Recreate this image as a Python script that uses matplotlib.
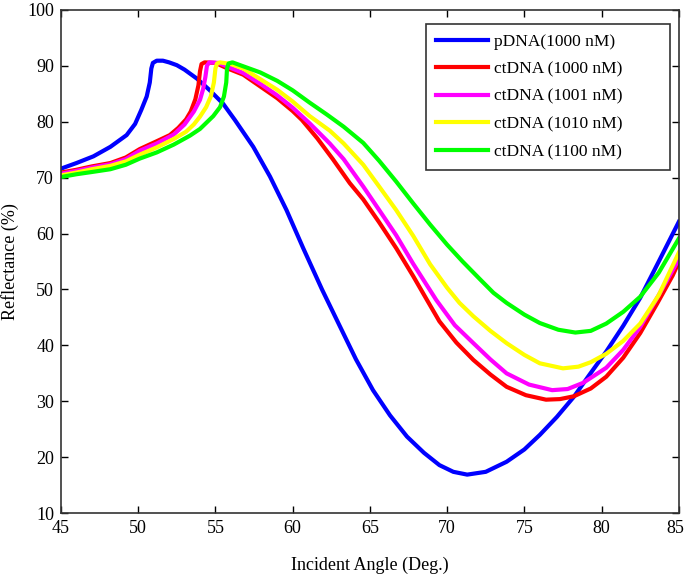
import numpy as np
import matplotlib.pyplot as plt
from matplotlib.transforms import ScaledTranslation

plt.rcParams['font.family'] = ['Liberation Serif', 'DejaVu Serif']

# incident angle (deg) / reflectance (%)
x_p = [45.0, 46.0, 47.1, 48.2, 49.25, 49.8, 50.2, 50.55, 50.75, 50.85, 50.95, 51.2, 51.6,
       52.0, 52.5, 53.0, 53.8, 54.6, 55.5, 56.26, 57.45, 58.53, 59.6, 60.68, 61.9, 63.06, 64.1,
       65.2, 66.3, 67.4, 68.5, 69.5, 70.4, 71.3, 72.5, 73.85, 75.0, 76.0, 77.1, 78.2, 79.2,
       80.3, 81.4, 82.5, 83.7, 85.0]
y_p = [71.6, 72.6, 73.8, 75.5, 77.6, 79.6, 82.1, 84.5, 87.0, 89.5, 90.5, 90.9, 90.9,
       90.6, 90.1, 89.3, 87.7, 85.7, 83.2, 80.3, 75.5, 70.2, 64.2, 57.4, 50.0, 43.4, 37.5,
       32.0, 27.5, 23.7, 20.8, 18.6, 17.4, 16.9, 17.4, 19.2, 21.4, 24.0, 27.2, 30.8, 34.7,
       38.9, 43.5, 48.5, 55.0, 62.1]

x_r = [45.0, 46.0, 47.0, 48.2, 49.2, 50.1, 51.2, 52.05, 52.6, 53.1, 53.4, 53.7, 53.9, 54.0,
       54.1, 54.3, 55.0, 55.8, 56.8, 59.0, 60.0, 60.6, 61.6, 62.6, 63.7, 64.57, 65.6, 66.7,
       67.8, 68.7, 69.5, 70.6, 71.7, 72.8, 73.85, 75.1, 76.4, 77.3, 78.2, 79.3, 80.3, 81.4,
       82.5, 83.6, 84.6, 85.0]
y_r = [70.9, 71.4, 72.0, 72.6, 73.6, 75.1, 76.5, 77.6, 78.9, 80.4, 81.8, 84.0, 86.5, 89.0,
       90.3, 90.6, 90.5, 89.5, 88.4, 84.2, 81.9, 80.3, 77.0, 73.3, 69.0, 66.1, 62.0, 57.4,
       52.4, 48.1, 44.3, 40.5, 37.4, 34.8, 32.6, 31.1, 30.3, 30.4, 30.9, 32.3, 34.4, 37.8,
       42.2, 47.5, 52.5, 54.9]

x_m = [45.0, 46.0, 47.0, 48.2, 49.2, 50.1, 51.2, 52.3, 53.0, 53.6, 54.0, 54.2, 54.35, 54.45,
       54.6, 55.2, 56.0, 56.8, 58.0, 59.0, 60.0, 61.1, 62.4, 63.3, 64.57, 65.6, 66.7, 67.8,
       69.3, 70.5, 71.7, 72.8, 73.85, 75.3, 76.8, 77.8, 78.8, 80.3, 81.4, 82.5, 83.7, 85.0]
y_m = [70.7, 71.2, 71.8, 72.4, 73.3, 74.8, 76.1, 77.7, 79.5, 81.8, 83.9, 85.8, 88.0, 90.0,
       90.6, 90.5, 89.6, 88.7, 86.6, 84.7, 82.5, 79.7, 76.1, 73.3, 68.4, 64.2, 59.7, 54.6,
       48.1, 43.6, 40.4, 37.5, 35.0, 33.0, 32.0, 32.2, 33.3, 36.0, 39.2, 43.3, 49.0, 55.4]

x_y = [45.0, 46.0, 47.0, 48.2, 49.2, 50.1, 51.2, 52.3, 53.1, 53.6, 54.0, 54.4, 54.7, 54.9,
       55.0, 55.1, 55.3, 56.0, 56.8, 59.0, 60.0, 61.1, 62.4, 63.3, 64.57, 65.6, 66.7, 67.8,
       68.9, 70.0, 70.8, 71.7, 72.8, 73.85, 75.0, 76.0, 77.5, 78.5, 79.3, 80.3, 81.4, 82.5,
       83.7, 85.0]
y_y = [70.4, 70.9, 71.5, 72.1, 72.9, 74.1, 75.4, 76.9, 78.2, 79.5, 80.9, 82.6, 84.5, 87.0,
       89.5, 90.4, 90.6, 90.3, 89.5, 85.7, 83.6, 81.0, 78.4, 76.1, 72.3, 68.4, 64.2, 59.6,
       54.5, 50.3, 47.6, 45.2, 42.6, 40.4, 38.3, 36.8, 35.9, 36.2, 37.0, 38.5, 40.8, 43.9,
       49.0, 56.6]

x_g = [45.0, 46.0, 47.0, 48.2, 49.2, 50.1, 51.2, 52.3, 53.35, 54.0, 54.86, 55.3, 55.55, 55.7,
       55.75, 55.85, 56.1, 56.8, 57.9, 59.0, 60.0, 61.1, 62.2, 63.3, 64.57, 65.6, 66.7, 67.8,
       68.9, 70.0, 71.0, 72.1, 73.0, 73.85, 75.0, 76.0, 77.2, 78.3, 79.3, 80.3, 81.4, 82.5,
       83.7, 85.0]
y_g = [70.1, 70.6, 71.0, 71.5, 72.3, 73.4, 74.5, 75.9, 77.5, 78.7, 81.0, 82.6, 84.5, 87.0,
       89.5, 90.4, 90.6, 89.9, 88.8, 87.3, 85.6, 83.4, 81.3, 79.1, 76.2, 73.0, 69.3, 65.4,
       61.6, 58.0, 55.0, 51.9, 49.4, 47.6, 45.5, 44.0, 42.8, 42.3, 42.6, 43.9, 46.0, 48.7,
       53.0, 59.1]

labels = ['pDNA(1000 nM)', 'ctDNA (1000 nM)', 'ctDNA (1001 nM)', 'ctDNA (1010 nM)', 'ctDNA (1100 nM)']
colors = ['#0000ff', '#ff0000', '#ff00ff', '#ffff00', '#00ff00']

fig = plt.figure(figsize=(6.85, 5.76), dpi=100)
ax = fig.add_axes([0.089, 0.109, 0.902, 0.874])

series = [(x_p, y_p), (x_r, y_r), (x_m, y_m), (x_y, y_y), (x_g, y_g)]
for (xs, ys), lab, c in zip(series, labels, colors):
    ax.plot(xs, ys, color=c, lw=3, label=lab, solid_joinstyle='round')

ax.set_xlim(45, 85)
ax.set_ylim(10, 100)
ax.set_xticks(np.arange(45, 86, 5))
ax.set_yticks(np.arange(10, 101, 10))
ax.tick_params(direction='in', top=True, right=True, length=5, width=1, labelsize=13, pad=5)
for s in ax.spines.values():
    s.set_linewidth(1.2)
    s.set_color('#333333')

# last x label sits at the figure edge, nudge it in a little
last = ax.get_xticklabels()[-1]
last.set_transform(last.get_transform() + ScaledTranslation(-4 / 100, 0, fig.dpi_scale_trans))

ax.set_xlabel('Incident Angle (Deg.)', fontsize=13, labelpad=14)
ax.set_ylabel('Reflectance (%)', fontsize=13, labelpad=6)

# wide box, text on the left (like the original)
leg = ax.legend(loc='upper left', bbox_to_anchor=(0.591, 0.0, 0.394, 0.972), mode='expand',
                borderaxespad=0, fontsize=12.5, fancybox=False, framealpha=1,
                handlelength=3.0, handletextpad=0.35, labelspacing=0.66, borderpad=0.55)
leg.get_frame().set_edgecolor('#333333')
leg.get_frame().set_linewidth(1.2)

fig.savefig('out.png', dpi=100)
